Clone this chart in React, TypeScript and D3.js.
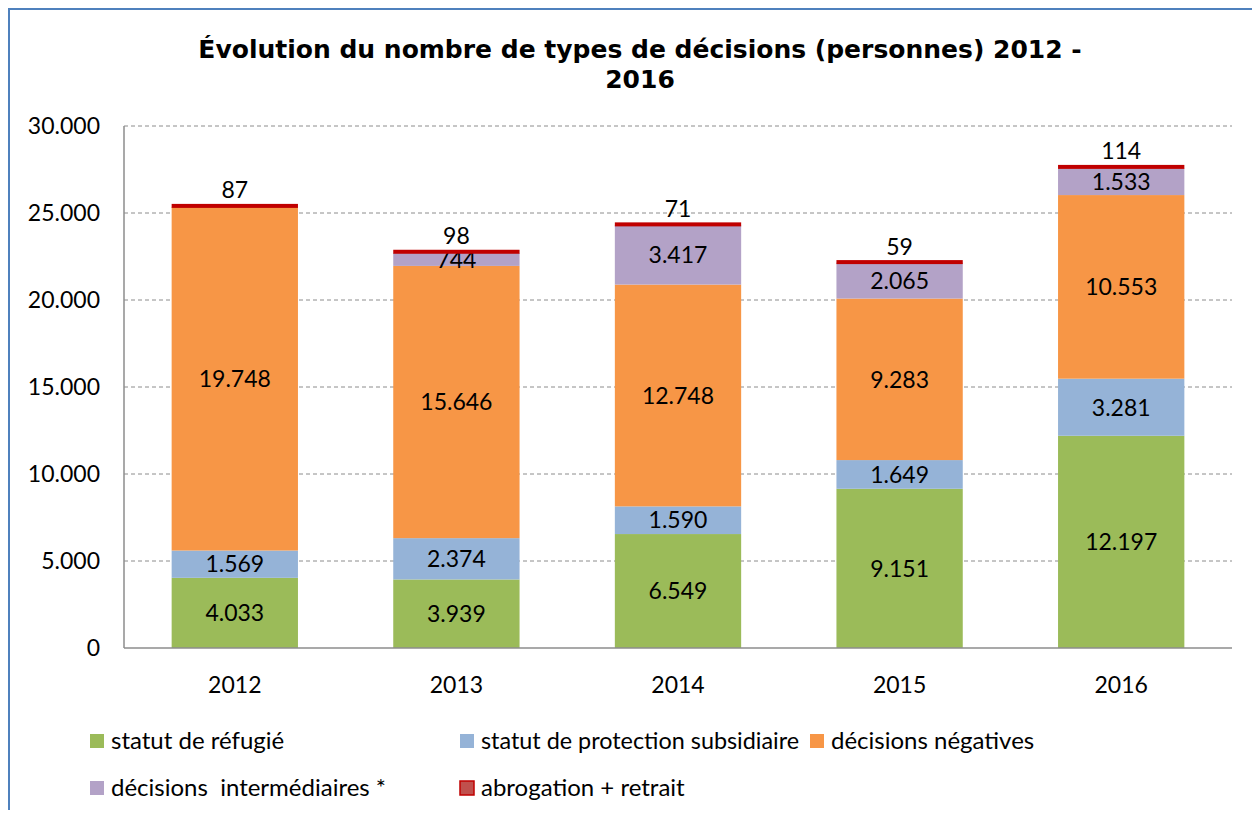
import React, { useEffect, useRef } from "react";
import * as d3 from "d3";

const years = ["2012", "2013", "2014", "2015", "2016"];
const refugie = [4033, 3939, 6549, 9151, 12197];
const subsidiaire = [1569, 2374, 1590, 1649, 3281];
const negatives = [19748, 15646, 12748, 9283, 10553];
const intermediaires = [0, 744, 3417, 2065, 1533];
const abrogation = [87, 98, 71, 59, 114];
const yTicks = [0, 5000, 10000, 15000, 20000, 25000, 30000];

const seriesNames = [
  "statut de réfugié",
  "statut de protection subsidiaire",
  "décisions négatives",
  "décisions  intermédiaires *",
  "abrogation + retrait",
];
const fills = ["#9BBB59", "#95B3D7", "#F79646", "#B3A2C7", "#C0504D"];

const fmt = (v: number) => d3.format(",")(v).replace(/,/g, ".");

export default function App() {
  const svgRef = useRef<SVGSVGElement | null>(null);

  useEffect(() => {
    if (!svgRef.current) return;
    const svg = d3.select(svgRef.current);
    svg.selectAll("*").remove();

    const font = "Lato, 'Open Sans', sans-serif";
    const W = 1260;
    const H = 818;

    // frame
    svg.append("rect").attr("width", W).attr("height", H).attr("fill", "#fff");
    svg.append("rect").attr("x", 5).attr("y", 7).attr("width", 5).attr("height", H).attr("fill", "#4F81BD");
    svg.append("rect").attr("x", 5).attr("y", 7).attr("width", 1253).attr("height", 3).attr("fill", "#4F81BD");
    svg.append("rect").attr("x", 1257).attr("y", 7).attr("width", 1.5).attr("height", H).attr("fill", "#7F9FCF");

    // title
    const title = svg
      .append("text")
      .attr("text-anchor", "middle")
      .attr("font-family", "'DejaVu Sans', Verdana, sans-serif")
      .attr("font-weight", "bold")
      .attr("font-size", 25)
      .attr("fill", "#000");
    title.append("tspan").attr("x", 640).attr("y", 58).text("Évolution du nombre de types de décisions (personnes) 2012 -");
    title.append("tspan").attr("x", 640).attr("y", 88).text("2016");

    const left = 124, right = 1232, top = 126, bottom = 648;

    const x = d3.scaleBand().domain(years).range([left, right]).paddingInner(0.43).paddingOuter(0.215);
    const y = d3.scaleLinear().domain([0, 30000]).range([bottom, top]);

    // grid
    svg
      .append("g")
      .selectAll("line")
      .data(yTicks.filter((t) => t > 0))
      .join("line")
      .attr("x1", left)
      .attr("x2", right)
      .attr("y1", (d) => y(d))
      .attr("y2", (d) => y(d))
      .attr("stroke", "#8c8c8c")
      .attr("stroke-width", 1)
      .attr("stroke-dasharray", "4,3");

    // y tick labels
    svg
      .append("g")
      .selectAll("text")
      .data(yTicks)
      .join("text")
      .attr("x", 100)
      .attr("y", (d) => y(d))
      .attr("dy", "0.35em")
      .attr("text-anchor", "end")
      .attr("font-family", font)
      .attr("font-size", 23)
      .text((d) => fmt(d));

    const rows = years.map((yr, i) => ({
      year: yr,
      v: [refugie[i], subsidiaire[i], negatives[i], intermediaires[i], abrogation[i]],
    }));

    const stack = d3
      .stack<{ year: string; v: number[] }>()
      .keys(["0", "1", "2", "3", "4"])
      .value((d, k) => d.v[+k]);
    const layers = stack(rows);

    const g = svg.append("g");
    layers.forEach((layer, li) => {
      layer.forEach((seg) => {
        const yr = seg.data.year;
        const val = seg[1] - seg[0];
        if (val <= 0) return;
        if (li === 4) {
          g.append("rect")
            .attr("x", x(yr)!)
            .attr("y", y(seg[1]) - 1.5)
            .attr("width", x.bandwidth())
            .attr("height", Math.max(4, y(seg[0]) - y(seg[1])))
            .attr("fill", "#C00000");
          g.append("text")
            .attr("x", x(yr)! + x.bandwidth() / 2)
            .attr("y", y(seg[1]) - 7)
            .attr("text-anchor", "middle")
            .attr("font-family", font)
            .attr("font-size", 23)
            .text(fmt(val));
          return;
        }
        g.append("rect")
          .attr("x", x(yr)!)
          .attr("y", y(seg[1]))
          .attr("width", x.bandwidth())
          .attr("height", y(seg[0]) - y(seg[1]))
          .attr("fill", fills[li]);
        g.append("text")
          .attr("x", x(yr)! + x.bandwidth() / 2)
          .attr("y", (y(seg[0]) + y(seg[1])) / 2)
          .attr("dy", "0.36em")
          .attr("text-anchor", "middle")
          .attr("font-family", font)
          .attr("font-size", 23)
          .text(fmt(val));
      });
    });

    // axes lines
    svg.append("line").attr("x1", left).attr("x2", left).attr("y1", top).attr("y2", bottom).attr("stroke", "#8c8c8c").attr("stroke-width", 1.5);
    svg.append("line").attr("x1", left).attr("x2", right).attr("y1", bottom).attr("y2", bottom).attr("stroke", "#8c8c8c").attr("stroke-width", 1.5);

    // x labels
    svg
      .append("g")
      .selectAll("text")
      .data(years)
      .join("text")
      .attr("x", (d) => x(d)! + x.bandwidth() / 2)
      .attr("y", 693)
      .attr("text-anchor", "middle")
      .attr("font-family", font)
      .attr("font-size", 23)
      .text((d) => d);

    // legend
    const legendPos = [
      [90, 741],
      [460, 741],
      [810, 741],
      [90, 788],
      [460, 788],
    ];
    seriesNames.forEach((name, i) => {
      const [lx, ly] = legendPos[i];
      svg
        .append("rect")
        .attr("x", lx)
        .attr("y", ly - 7)
        .attr("width", 14)
        .attr("height", 14)
        .attr("fill", fills[i])
        .attr("stroke", i === 4 ? "#C00000" : "none")
        .attr("stroke-width", 1.5);
      const t = svg
        .append("text")
        .attr("x", lx + 21)
        .attr("y", ly)
        .attr("dy", "0.35em")
        .attr("font-family", font)
        .attr("font-size", 24)
        .attr("xml:space", "preserve")
        .style("white-space", "pre")
        .text(name);
      if (i === 1) t.attr("textLength", 318).attr("lengthAdjust", "spacingAndGlyphs");
    });
  }, []);

  return (
    <div style={{ margin: -8 }}>
      <svg ref={svgRef} width={1260} height={818} style={{ display: "block" }}></svg>
    </div>
  );
}
